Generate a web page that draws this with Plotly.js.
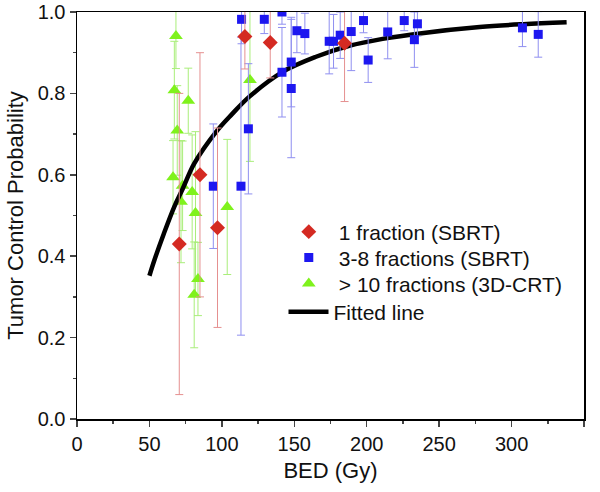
<!DOCTYPE html>
<html><head><meta charset="utf-8">
<script src="https://cdn.plot.ly/plotly-3.0.1.min.js"></script>
<style>html,body{margin:0;padding:0;background:#fff}#chart{width:600px;height:492px}</style>
</head><body><div id="chart"></div>
<script>
// 1 fraction (SBRT)
const redX = [70.6, 84.9, 97.0, 115.9, 133.4, 184.7];
const redY = [0.43, 0.60, 0.47, 0.94, 0.925, 0.923];
const redErr = [0.37, 0.30, 0.245, 0.08, 0.087, 0.143];
// 3-8 fractions (SBRT)
const blueX = [94.1, 113.2, 113.6, 118.3, 129.3, 141.5, 141.5, 147.9, 147.9, 151.8, 157.3, 174.1, 177.1, 181.7, 189.3, 197.8, 201.0, 214.5, 225.9, 235.0, 232.9, 307.5, 318.4];
const blueY = [0.572, 0.572, 0.982, 0.713, 0.982, 1.0, 0.852, 0.877, 0.812, 0.954, 0.947, 0.928, 0.928, 0.943, 0.952, 0.979, 0.882, 0.951, 0.979, 0.971, 0.932, 0.961, 0.945];
const blueErr = [0.153, 0.366, 0.06, 0.16, 0.035, 0.03, 0.11, 0.11, 0.17, 0.054, 0.05, 0.08, 0.066, 0.057, 0.096, 0.03, 0.055, 0.066, 0.025, 0.03, 0.068, 0.046, 0.056];
// > 10 fractions (3D-CRT)
const greenX = [68.3, 67.2, 76.8, 69.2, 66.3, 72.9, 79.5, 71.8, 81.8, 103.7, 83.5, 80.9, 119.4];
const greenY = [0.941, 0.808, 0.782, 0.709, 0.594, 0.573, 0.558, 0.534, 0.506, 0.521, 0.344, 0.305, 0.833];
const greenErr = [0.08, 0.12, 0.08, 0.11, 0.09, 0.11, 0.14, 0.15, 0.2, 0.166, 0.09, 0.13, 0.2];
// Fitted line
const fitX = [50, 53.4, 60, 67.2, 72.9, 81, 95.9, 107, 119, 142, 165, 188, 211, 238, 278, 308, 338];
const fitY = [0.352, 0.39, 0.456, 0.522, 0.565, 0.628, 0.705, 0.749, 0.792, 0.853, 0.890, 0.917, 0.934, 0.948, 0.963, 0.970, 0.975];

const xTicks = [0, 50, 100, 150, 200, 250, 300, 350];
const yTicks = [0, 0.2, 0.4, 0.6, 0.8, 1.0];
const yTickText = ['0.0', '0.2', '0.4', '0.6', '0.8', '1.0'];

const FONT = 'Arial, "Liberation Sans", sans-serif';

function errTrace(name, x, y, err, color, errColor, symbol, size, leg) {
  return {
    type: 'scatter', mode: 'markers', name: name, x: x, y: y, legend: leg,
    marker: {symbol: symbol, size: size, color: color, line: {width: 0}},
    error_y: {type: 'data', array: err, visible: true, color: errColor, thickness: 1, width: 4},
    cliponaxis: true
  };
}

const traces = [
  errTrace('&gt; 10 fractions (3D-CRT)', greenX, greenY, greenErr, '#7ff21c', '#a9ee7a', 'triangle-up', 12, 'legend3'),
  {type: 'scatter', mode: 'lines', name: 'Fitted line', x: fitX, y: fitY, legend: 'legend4',
   line: {color: '#000000', width: 4.5, shape: 'spline', smoothing: 1}},
  errTrace('3-8 fractions (SBRT)', blueX, blueY, blueErr, '#1d17f0', '#8f8ff0', 'square', 9, 'legend2'),
  errTrace('1 fraction (SBRT)', redX, redY, redErr, '#d42a22', '#e59090', 'diamond', 11.5, 'legend')
];

function leg(xl, yc, iw) {
  return {x: xl, y: yc, xanchor: 'left', yanchor: 'middle', bgcolor: 'rgba(0,0,0,0)',
          font: {family: FONT, size: 21, color: '#111'}, itemwidth: iw, borderwidth: 0};
}

const layout = {
  width: 600, height: 492,
  margin: {l: 77, r: 16, t: 12, b: 73},
  paper_bgcolor: '#ffffff', plot_bgcolor: '#ffffff',
  font: {family: FONT, size: 20, color: '#111'},
  showlegend: true,
  legend: leg(0.398, 0.4595, 50), legend2: leg(0.398, 0.3957, 50), legend3: leg(0.398, 0.3318, 50),
  legend4: leg(0.4073, 0.2629, 40),
  xaxis: {
    range: [0, 350], tickvals: xTicks, ticks: 'outside', ticklen: 6, tickwidth: 1.5,
    showline: true, linecolor: '#000', linewidth: 1.5, mirror: true, showgrid: false, zeroline: false,
    tickfont: {family: FONT, size: 20, color: '#111'},
    minor: {dtick: 25, ticks: 'outside', ticklen: 3, tickwidth: 1.5, showgrid: false},
    title: {text: 'BED (Gy)', font: {family: FONT, size: 22, color: '#111'}, standoff: 9}
  },
  yaxis: {
    range: [0, 1.0], tickvals: yTicks, ticktext: yTickText, ticks: 'outside', ticklen: 6, tickwidth: 1.5,
    showline: true, linecolor: '#000', linewidth: 1.5, mirror: true, showgrid: false, zeroline: false,
    tickfont: {family: FONT, size: 20, color: '#111'},
    minor: {dtick: 0.1, ticks: 'outside', ticklen: 3, tickwidth: 1.5, showgrid: false},
    title: {text: 'Tumor Control Probability', font: {family: FONT, size: 22, color: '#111'}, standoff: 8}
  }
};

Plotly.newPlot('chart', traces, layout, {displayModeBar: false, staticPlot: true});
</script></body></html>
